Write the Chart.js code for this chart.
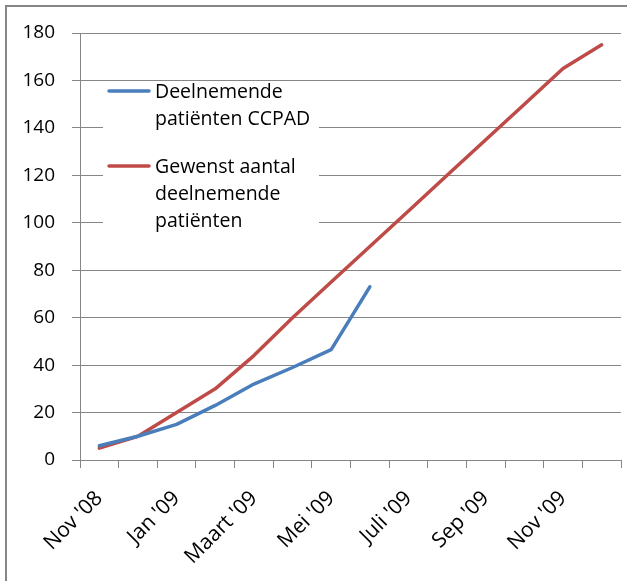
<!DOCTYPE html>
<html>
<head>
<meta charset="utf-8">
<script src="https://cdn.jsdelivr.net/npm/chart.js@4"></script>
<style>
  html, body { margin: 0; padding: 0; background: #fff; }
  #chart { display: block; }
</style>
</head>
<body>
<canvas id="chart" width="627" height="581"></canvas>
<script>
const months = [
  "Nov '08", "Dec '08", "Jan '09", "Feb '09", "Maart '09", "April '09", "Mei '09",
  "Juni '09", "Juli '09", "Aug '09", "Sep '09", "Okt '09", "Nov '09", "Dec '09",
];
// every other month gets a label on the axis
const shownLabels = ["Nov '08", "Jan '09", "Maart '09", "Mei '09", "Juli '09", "Sep '09", "Nov '09"];

const deelnemend = [6, 10, 15, 23, 32, 39, 46.5, 73];
const gewenst = [5, 10, 20, 30, 44, 60, 75, 90, 105, 120, 135, 150, 165, 175];

const yTicks = [0, 20, 40, 60, 80, 100, 120, 140, 160, 180];

const legendItems = [
  { color: "#4a7ebb", lines: ["Deelnemende", "patiënten CCPAD"] },
  { color: "#be4b48", lines: ["Gewenst aantal", "deelnemende", "patiënten"] },
];

const FONT = "'Open Sans', 'Liberation Sans', sans-serif";
const GRID = "#868686";

// grey frame round the chart (top + left visible in the picture)
const framePlugin = {
  id: "frame",
  beforeDraw(chart) {
    const c = chart.ctx;
    c.save();
    c.fillStyle = "#fff";
    c.fillRect(0, 0, chart.width, chart.height);
    c.strokeStyle = GRID;
    c.lineWidth = 2;
    c.beginPath();
    c.moveTo(6, chart.height);
    c.lineTo(6, 6);
    c.lineTo(chart.width, 6);
    c.stroke();
    c.restore();
  },
};

// legend sits inside the plot, on a white box
const insideLegend = {
  id: "insideLegend",
  afterDraw(chart) {
    const c = chart.ctx;
    c.save();
    c.fillStyle = "#fff";
    c.fillRect(103, 84, 216, 149);
    c.font = "19.5px " + FONT;
    c.textBaseline = "alphabetic";
    c.fillStyle = "#000";
    let y = 98;
    legendItems.forEach((item) => {
      c.strokeStyle = item.color;
      c.lineWidth = 3.5;
      c.lineCap = "round";
      c.beginPath();
      c.moveTo(109, y - 7);
      c.lineTo(149, y - 7);
      c.stroke();
      item.lines.forEach((t) => {
        c.fillText(t, 155, y);
        y += 27;
      });
      y += 21;
    });
    c.restore();
  },
};

new Chart(document.getElementById("chart"), {
  type: "line",
  data: {
    labels: months,
    datasets: [
      {
        label: "Deelnemende patiënten CCPAD",
        data: deelnemend,
        borderColor: "#4a7ebb",
        borderWidth: 3.5,
        pointRadius: 0,
        tension: 0,
        borderJoinStyle: "round",
        borderCapStyle: "round",
      },
      {
        label: "Gewenst aantal deelnemende patiënten",
        data: gewenst,
        borderColor: "#be4b48",
        borderWidth: 3.5,
        pointRadius: 0,
        tension: 0,
        borderJoinStyle: "round",
        borderCapStyle: "round",
      },
    ],
  },
  options: {
    responsive: false,
    animation: false,
    devicePixelRatio: 1,
    layout: { padding: { top: 33, right: 6, left: 0, bottom: 0 } },
    plugins: {
      legend: { display: false },
      tooltip: { enabled: false },
    },
    scales: {
      x: {
        offset: true,
        grid: {
          offset: true,
          drawOnChartArea: false,
          drawTicks: true,
          tickLength: 8,
          color: GRID,
        },
        border: { color: GRID },
        ticks: {
          autoSkip: false,
          maxRotation: 45,
          minRotation: 45,
          padding: 18,
          color: "#000",
          font: { family: FONT, size: 21 },
          callback: function (value) {
            const lab = months[value];
            return shownLabels.includes(lab) ? lab : "";
          },
        },
        afterFit(scale) {
          scale.height = 121;
          scale.paddingLeft = 0;
          scale.paddingRight = 0;
        },
      },
      y: {
        min: 0,
        max: 180,
        afterBuildTicks(scale) {
          scale.ticks = yTicks.map((v) => ({ value: v }));
        },
        grid: { color: GRID, tickLength: 8 },
        border: { color: GRID },
        ticks: {
          padding: 17,
          color: "#000",
          font: { family: FONT, size: 19 },
        },
        afterFit(scale) {
          scale.width = 80;
        },
      },
    },
  },
  plugins: [framePlugin, insideLegend],
});
</script>
</body>
</html>
